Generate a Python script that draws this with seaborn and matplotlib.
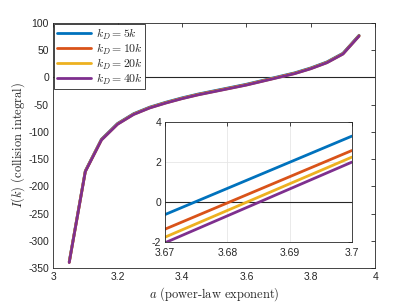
import numpy as np
import pandas as pd
import seaborn as sns
from matplotlib import pyplot as plt

# main sweep over the power-law exponent
a_vals = [3.05, 3.10, 3.15, 3.20, 3.25, 3.30, 3.35, 3.40, 3.45, 3.50,
          3.55, 3.60, 3.65, 3.70, 3.75, 3.80, 3.85, 3.90, 3.95]
I_5k = [-338.5, -171.5, -113.5, -84.5, -66.5, -54.5, -45.5, -37.5, -30.5, -24.5,
        -18.5, -12.5, -5.5, 1.5, 8.5, 17.5, 28.5, 44.5, 77.5]
I_10k = [-339.3, -172.3, -114.3, -85.3, -67.3, -55.3, -46.3, -38.3, -31.3, -25.3,
         -19.3, -13.3, -6.3, 0.7, 7.7, 16.7, 27.7, 43.7, 76.7]
I_20k = [-339.7, -172.7, -114.7, -85.7, -67.7, -55.7, -46.7, -38.7, -31.7, -25.7,
         -19.7, -13.7, -6.7, 0.3, 7.3, 16.3, 27.3, 43.3, 76.3]
I_40k = [-340.0, -173.0, -115.0, -86.0, -68.0, -56.0, -47.0, -39.0, -32.0, -26.0,
         -20.0, -14.0, -7.0, 0.0, 7.0, 16.0, 27.0, 43.0, 76.0]

# zoomed window near the zero crossing
a_zoom = [3.67, 3.70]
Iz_5k = [-0.62, 3.30]
Iz_10k = [-1.35, 2.58]
Iz_20k = [-1.75, 2.25]
Iz_40k = [-2.03, 2.00]

labels = [r'$k_D = 5k$', r'$k_D = 10k$', r'$k_D = 20k$', r'$k_D = 40k$']
colors = ['#0072BD', '#D95319', '#EDB120', '#7E2F8E']


def to_long(x, series):
    frames = []
    for lab, y in zip(labels, series):
        frames.append(pd.DataFrame({'a': x, 'I': y, 'kD': lab}))
    return pd.concat(frames, ignore_index=True)


df = to_long(a_vals, [I_5k, I_10k, I_20k, I_40k])
dz = to_long(a_zoom, [Iz_5k, Iz_10k, Iz_20k, Iz_40k])

sns.set_theme(style='white')
plt.rcParams['font.family'] = ['Liberation Sans', 'DejaVu Sans']
plt.rcParams['mathtext.fontset'] = 'cm'
plt.rcParams['axes.unicode_minus'] = False
axcol = '#262626'

fig = plt.figure(figsize=(4.15, 3.03), dpi=100)
ax = fig.add_axes([0.128, 0.1155, 0.776, 0.8085])
sns.lineplot(data=df, x='a', y='I', hue='kD', palette=colors, lw=2, ax=ax)
ax.axhline(0, color=axcol, lw=0.8, zorder=1)
ax.set_xlim(3, 4)
ax.set_ylim(-350, 100)
ax.set_xticks([3, 3.2, 3.4, 3.6, 3.8, 4])
ax.set_xticklabels(['3', '3.2', '3.4', '3.6', '3.8', '4'])
ax.set_yticks(np.arange(-350, 101, 50))
ax.set_xlabel(r'$a$ (power-law exponent)', fontsize=9, color=axcol, labelpad=2,
              family='cmr10')
ax.set_ylabel(r'$I(k)$ (collision integral)', fontsize=9, color=axcol, labelpad=1,
              family='cmr10')
ax.tick_params(direction='in', top=True, right=True, length=3, width=0.6,
               labelsize=7.5, colors=axcol, pad=3)
for s in ax.spines.values():
    s.set_color(axcol)
    s.set_linewidth(0.6)
ax.legend(loc='upper left', fontsize=8.5, handlelength=2.9, frameon=True,
          fancybox=False, edgecolor=axcol, borderaxespad=0.1, borderpad=0.2,
          labelspacing=0.0, handletextpad=0.4, framealpha=1)
ax.get_legend().get_frame().set_linewidth(0.6)

ins = fig.add_axes([0.398, 0.201, 0.45, 0.396])
sns.lineplot(data=dz, x='a', y='I', hue='kD', palette=colors, lw=2, ax=ins, legend=False)
ins.axhline(0, color=axcol, lw=0.8, zorder=1)
ins.set_xlim(3.67, 3.70)
ins.set_ylim(-2, 4)
ins.set_xticks([3.67, 3.68, 3.69, 3.70])
ins.set_xticklabels(['3.67', '3.68', '3.69', '3.7'])
ins.set_yticks([-2, 0, 2, 4])
ins.grid(True, color='#e6e6e6', lw=0.6)
ins.set_axisbelow(True)
ins.set_xlabel('')
ins.set_ylabel('')
ins.tick_params(direction='in', top=True, right=True, length=3, width=0.6,
                labelsize=7.5, colors=axcol, pad=3)
ins.tick_params(axis='x', pad=4)
for s in ins.spines.values():
    s.set_color(axcol)
    s.set_linewidth(0.6)

fig.savefig('out.png', dpi=100)
